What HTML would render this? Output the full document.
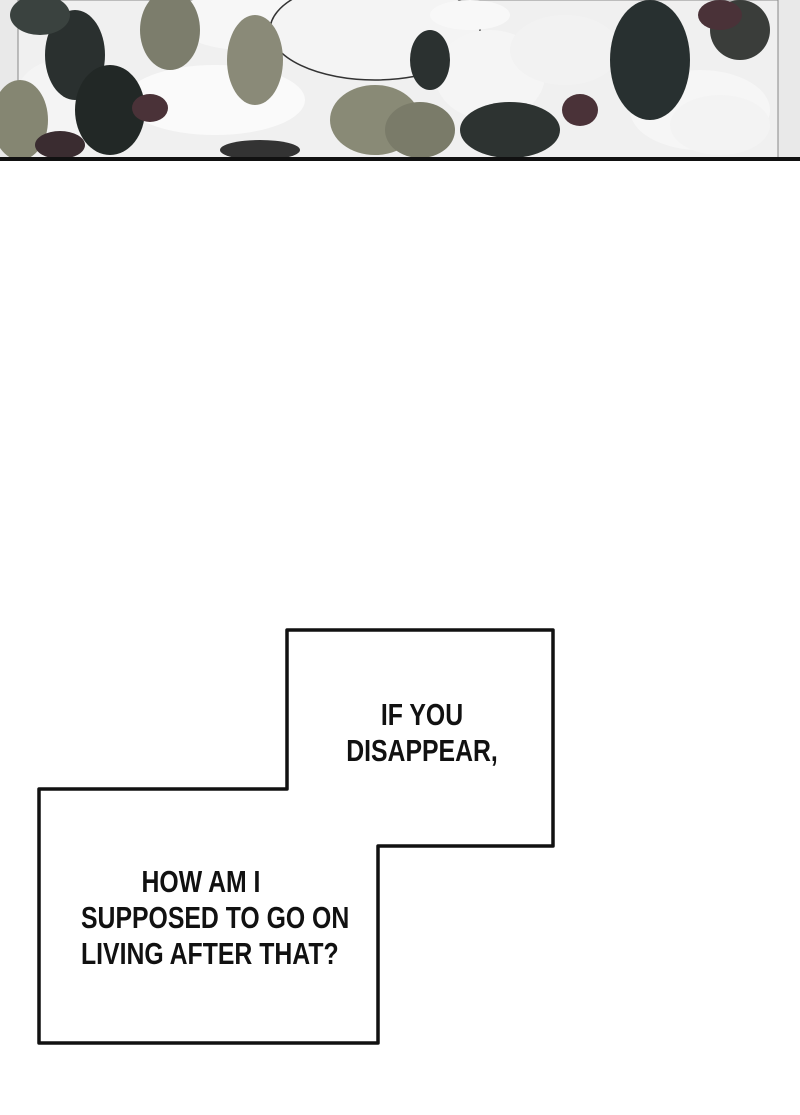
<!DOCTYPE html>
<html><head><style>
body{margin:0;background:#fff;width:800px;height:1115px;overflow:hidden;position:relative;font-family:"Liberation Sans",sans-serif}
.t{position:absolute;font-size:31px;line-height:36px;text-align:center;color:#111;transform:scaleX(0.8);white-space:nowrap;font-weight:bold}
</style></head><body>
<svg width="800" height="1115" style="position:absolute;left:0;top:0">
<rect x="0" y="0" width="800" height="158" fill="#e9e9e9"/>
<rect x="18" y="0" width="760" height="158" fill="#f0f0f0" stroke="#888" stroke-width="1"/>
<g>
<ellipse cx="245" cy="20" rx="70" ry="30" fill="#f7f7f7"/>
<ellipse cx="375" cy="30" rx="105" ry="50" fill="#f4f4f4" stroke="#333" stroke-width="1.5"/>
<ellipse cx="215" cy="100" rx="90" ry="35" fill="#fafafa"/>
<ellipse cx="490" cy="75" rx="55" ry="45" fill="#f5f5f5"/>
<ellipse cx="565" cy="50" rx="55" ry="35" fill="#f2f2f2"/>
<ellipse cx="700" cy="110" rx="70" ry="40" fill="#f6f6f6"/>
<ellipse cx="60" cy="100" rx="45" ry="40" fill="#f4f4f4"/>
<ellipse cx="255" cy="60" rx="28" ry="45" fill="#8a8a78"/>
<ellipse cx="170" cy="30" rx="30" ry="40" fill="#7c7d6c"/>
<ellipse cx="375" cy="120" rx="45" ry="35" fill="#898a76"/>
<ellipse cx="420" cy="130" rx="35" ry="28" fill="#7a7b69"/>
<ellipse cx="20" cy="120" rx="28" ry="40" fill="#858672"/>
<ellipse cx="75" cy="55" rx="30" ry="45" fill="#2a302f"/>
<ellipse cx="110" cy="110" rx="35" ry="45" fill="#222826"/>
<ellipse cx="40" cy="15" rx="30" ry="20" fill="#3a423f"/>
<ellipse cx="150" cy="108" rx="18" ry="14" fill="#4a3238"/>
<ellipse cx="60" cy="145" rx="25" ry="14" fill="#3a2c30"/>
<ellipse cx="580" cy="110" rx="18" ry="16" fill="#4a3238"/>
<ellipse cx="510" cy="130" rx="50" ry="28" fill="#2d3331"/>
<ellipse cx="650" cy="60" rx="40" ry="60" fill="#283030"/>
<ellipse cx="740" cy="30" rx="30" ry="30" fill="#3a3d3a"/>
<ellipse cx="720" cy="15" rx="22" ry="15" fill="#4a3238"/>
<ellipse cx="470" cy="15" rx="40" ry="15" fill="#f8f8f8"/>
<ellipse cx="430" cy="60" rx="20" ry="30" fill="#2b3130"/>
<ellipse cx="260" cy="150" rx="40" ry="10" fill="#333"/>
<ellipse cx="720" cy="125" rx="50" ry="30" fill="#f3f3f3"/>
</g>
<rect x="0" y="157" width="800" height="4" fill="#111"/>
<polygon points="287,630 553,630 553,846 378,846 378,1043 39,1043 39,789 287,789" fill="#fff" stroke="#111" stroke-width="3.5" stroke-linejoin="round"/>
</svg>
<div class="t" style="left:322px;width:200px;top:697px">IF YOU<br>DISAPPEAR,</div>
<div class="t" style="left:51px;width:300px;top:864px">HOW AM I<br>SUPPOSED TO GO ON<br>LIVING AFTER THAT?</div>
</body></html>
